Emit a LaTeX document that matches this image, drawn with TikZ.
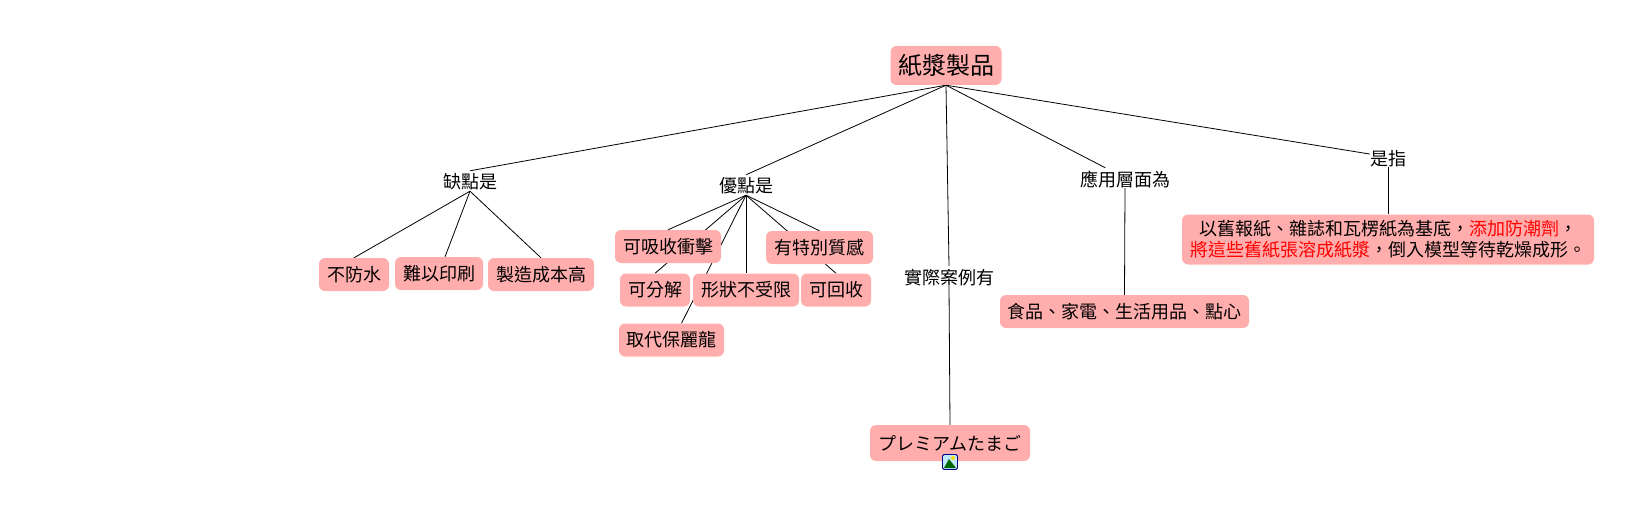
\documentclass[tikz,border=0pt]{standalone}
\usepackage{fontspec}
\setmainfont{Noto Sans CJK TC}
\usetikzlibrary{backgrounds}
\definecolor{boxpink}{HTML}{FFADAD}
\tikzset{
  x=1pt,y=-1pt,
  concept/.style={draw=none,fill=boxpink,rounded corners=6pt,inner sep=0pt,font=\fontsize{18}{21}\selectfont},
  linking/.style={inner sep=0pt,text height=18pt,text depth=2pt,font=\fontsize{18}{21}\selectfont},
  link/.style={draw=black,line width=0.8pt}
}
\begin{document}
\begin{tikzpicture}
  \useasboundingbox (0,0) rectangle (1639,516);
  % main concept
  \node[concept,minimum width=111pt,minimum height=39pt,font=\fontsize{24}{28}\selectfont] (paper) at (946,65.5) {\raisebox{-2pt}{紙漿製品}};
  % linking words
  \node[linking] (lack) at (470,181) {缺點是};
  \node[linking] (good) at (746,185) {優點是};
  \node[linking] (case) at (949,276) {實際案例有};
  \node[linking] (use) at (1125,178) {應用層面為};
  \node[linking] (mean) at (1388,157) {是指};
  % concepts
  \node[concept,minimum width=70pt,minimum height=33pt] (water) at (354,274.5) {不防水};
  \node[concept,minimum width=88pt,minimum height=33pt] (print) at (439,273.5) {難以印刷};
  \node[concept,minimum width=106pt,minimum height=33pt] (cost) at (541,274.5) {製造成本高};
  \node[concept,minimum width=106pt,minimum height=33pt] (shock) at (668,246.5) {可吸收衝擊};
  \node[concept,minimum width=107pt,minimum height=33pt] (feel) at (819.5,247.5) {有特別質感};
  \node[concept,minimum width=70pt,minimum height=33pt] (decay) at (655,290) {可分解};
  \node[concept,minimum width=106pt,minimum height=33pt] (form) at (746,290) {形狀不受限};
  \node[concept,minimum width=70pt,minimum height=33pt] (recycle) at (836,290) {可回收};
  \node[concept,minimum width=105pt,minimum height=33pt] (foam) at (671.5,340) {取代保麗龍};
  \node[concept,minimum width=249pt,minimum height=33pt] (goods) at (1124.5,311.5) {食品、家電、生活用品、點心};
  \node[concept,minimum width=160pt,minimum height=36pt] (egg) at (950,443) {プレミアムたまご};
  \node[concept,minimum width=412pt,minimum height=50pt,align=center] (define) at (1388,239.5) {以舊報紙、雜誌和瓦楞紙為基底^^^^ff0c\textcolor{red}{添加防潮劑}^^^^ff0c\\\textcolor{red}{將這些舊紙張溶成紙漿}^^^^ff0c倒入模型等待乾燥成形。};
  % image icon
  \node[draw=blue!50!black,fill=cyan!25,rounded corners=1.5pt,line width=0.9pt,minimum size=15pt,inner sep=0pt] (icon) at (950,462) {};
  \fill[green!40!black] (944,468) -- (949,459) -- (956,468) -- cycle;
  \fill[yellow!80!orange] (953,458) circle (2pt);
  % links
  \begin{scope}[on background layer]
    \draw[link] (paper.south) -- (lack.north);
    \draw[link] (paper.south) -- (good.north);
    \draw[link] (paper.south) -- (case.north);
    \draw[link] (paper.south) -- (use);
    \draw[link] (paper.south) -- (mean);
    \draw[link] (case.south) -- (egg.north);
    \draw[link] (lack.south) -- (water.north);
    \draw[link] (lack.south) -- ([xshift=6pt]print.north);
    \draw[link] (lack.south) -- (cost.north);
    \draw[link] (good.south) -- (shock.north);
    \draw[link] (good.south) -- (feel.north);
    \draw[link] (good.south) -- (form.north);
    \draw[link] (good.south) -- (decay.north);
    \draw[link] (good.south) -- (recycle.north);
    \draw[link] (good.south) -- ([xshift=10pt]foam.north);
    \draw[link] (use.south) -- (goods.north);
    \draw[link] (mean.south) -- (define.north);
  \end{scope}
\end{tikzpicture}
\end{document}
